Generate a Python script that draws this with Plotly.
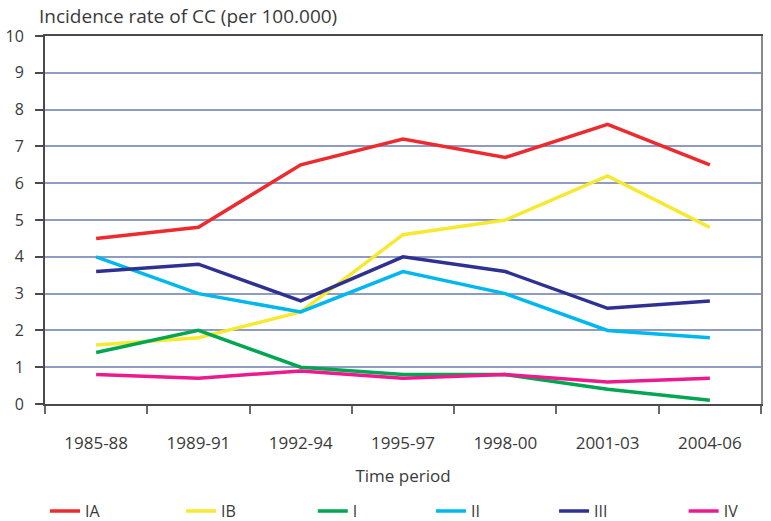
import plotly.graph_objects as go

periods = ["1985-88", "1989-91", "1992-94", "1995-97", "1998-00", "2001-03", "2004-06"]
IA = [4.5, 4.8, 6.5, 7.2, 6.7, 7.6, 6.5]
IB = [1.6, 1.8, 2.5, 4.6, 5.0, 6.2, 4.8]
I = [1.4, 2.0, 1.0, 0.8, 0.8, 0.4, 0.1]
II = [4.0, 3.0, 2.5, 3.6, 3.0, 2.0, 1.8]
III = [3.6, 3.8, 2.8, 4.0, 3.6, 2.6, 2.8]
IV = [0.8, 0.7, 0.9, 0.7, 0.8, 0.6, 0.7]

series = [
    ("IA", IA, "#ED2B2F"),
    ("IB", IB, "#F7E92F"),
    ("I", I, "#00A651"),
    ("II", II, "#00B7EE"),
    ("III", III, "#2E3192"),
    ("IV", IV, "#EC1A8C"),
]
legend_x = [0.0, 0.190, 0.374, 0.539, 0.711, 0.892]

FONT = "Open Sans"
TXT = "#3a3a3a"

fig = go.Figure()
legends = {}
for i, (name, vals, col) in enumerate(series):
    lid = "legend" if i == 0 else f"legend{i + 1}"
    fig.add_trace(go.Scatter(x=periods, y=vals, name=name, mode="lines",
                             line=dict(color=col, width=3.5), legend=lid))
    legends[lid] = dict(orientation="h", x=legend_x[i], y=-0.291, xanchor="left",
                        yanchor="middle", itemwidth=30, bgcolor="rgba(0,0,0,0)",
                        font=dict(family=FONT, size=16, color=TXT))
fig.add_trace(go.Scatter(x=periods, y=[None]*len(periods), yaxis="y2", showlegend=False,
                         hoverinfo="skip"))

fig.update_layout(
    width=771, height=521,
    margin=dict(l=45, r=10, t=36, b=117, autoexpand=False),
    plot_bgcolor="white", paper_bgcolor="white",
    font=dict(family=FONT, size=16, color=TXT),
    showlegend=True,
    xaxis=dict(type="category", range=[-0.5, 6.5], showgrid=False, automargin=False,
               showline=True, linecolor="#4a4a4a", linewidth=2, mirror=True,
               ticks="outside", ticklen=8, tickcolor="#6a6a6a", tickwidth=2,
               tickson="boundaries", ticklabelstandoff=23,
               tickfont=dict(family=FONT, size=17, color=TXT),
               title=dict(text="Time period", font=dict(family=FONT, size=17, color=TXT),
                          standoff=17)),
    yaxis=dict(range=[0, 10], dtick=1, showgrid=True, gridcolor="#8f9bc2", gridwidth=1.5,
               showline=True, linecolor="#4a4a4a", linewidth=2, automargin=False,
               ticks="outside", ticklen=8, tickcolor="#4a4a4a", tickwidth=2,
               ticklabelstandoff=8, zeroline=False,
               tickfont=dict(family=FONT, size=16, color=TXT)),
    yaxis2=dict(range=[0, 10], overlaying="y", side="right", showline=True,
                linecolor="#8a8a8a", linewidth=2, showgrid=False, showticklabels=False,
                ticks="", zeroline=False, automargin=False),
    annotations=[dict(text="Incidence rate of CC (per 100.000)", xref="paper", yref="paper",
                      x=-0.011, y=1.0, xanchor="left", yanchor="bottom", yshift=5,
                      showarrow=False, font=dict(family=FONT, size=19, color=TXT))],
    **legends,
)

fig.write_html("out.html", config={"displayModeBar": False},
               post_script="document.body.style.margin='0';document.body.style.overflow='hidden';")
